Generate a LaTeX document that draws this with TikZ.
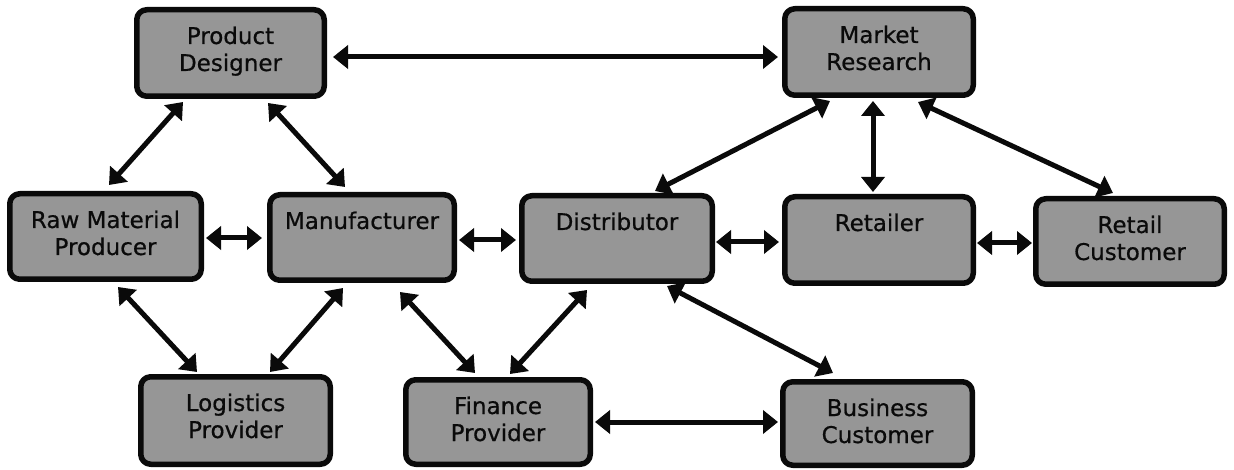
\documentclass[tikz,border=0pt]{standalone}
\usepackage{fontspec}
\setmainfont{DejaVu Sans}
\newfontfamily\lblfont{DejaVu Sans}[FakeBold=0.6]
\usetikzlibrary{arrows.meta}
\definecolor{boxgray}{RGB}{150,150,150}
\definecolor{inkblack}{RGB}{10,10,10}
\newcommand{\firstline}{\rule{0pt}{25pt}}
\begin{document}
\begin{tikzpicture}[x=1pt,y=-1pt,
  box/.style={draw=inkblack, line width=5.5pt, fill=boxgray, rounded corners=10pt,
    inner sep=0pt, line join=round},
  lbl/.style={anchor=north, inner sep=0pt, outer sep=0pt, align=center,
    text=inkblack, font=\lblfont\fontsize{23}{27}\selectfont},
  arr/.style={draw=inkblack, line width=5pt,
    {Triangle[length=15pt,width=23pt]}-{Triangle[length=15pt,width=23pt]}}]
\useasboundingbox (0,0) rectangle (1234,470);
% boxes (minimum size = outer size - line width)
\node[box, minimum width=187.5pt, minimum height=86.5pt] (pd)  at (230.5,53) {};
\node[box, minimum width=188.5pt, minimum height=86.5pt] (mr)  at (879,52) {};
\node[box, minimum width=191.5pt, minimum height=85.5pt] (rm)  at (105.5,236.5) {};
\node[box, minimum width=184.5pt, minimum height=85.5pt] (mfg) at (362,237.5) {};
\node[box, minimum width=190.5pt, minimum height=85.5pt] (dist) at (617,238.5) {};
\node[box, minimum width=188.5pt, minimum height=86.5pt] (ret) at (879,240) {};
\node[box, minimum width=188.5pt, minimum height=85.5pt] (rc)  at (1130,241.5) {};
\node[box, minimum width=189.5pt, minimum height=87.5pt] (log) at (235.5,420.5) {};
\node[box, minimum width=184.5pt, minimum height=84.5pt] (fin) at (498,422) {};
\node[box, minimum width=189.5pt, minimum height=83.5pt] (bc)  at (877.5,423.5) {};
% labels
\node[lbl] (pdt)  at ([shift={(0,12)}]pd.north)   {\firstline Product\\Designer};
\node[lbl] (mrt)  at ([shift={(0,12)}]mr.north)   {\firstline Market\\Research};
\node[lbl] (rmt)  at ([shift={(0,12)}]rm.north)   {\firstline Raw Material\\Producer};
\node[lbl] (mfgt) at ([shift={(0,12)}]mfg.north)  {\firstline Manufacturer};
\node[lbl] (distt) at ([shift={(0,12)}]dist.north) {\firstline Distributor};
\node[lbl] (rett) at ([shift={(0,12)}]ret.north)  {\firstline Retailer};
\node[lbl] (rct)  at ([shift={(0,12)}]rc.north)   {\firstline Retail\\Customer};
\node[lbl] (logt) at ([shift={(0,12)}]log.north)  {\firstline Logistics\\Provider};
\node[lbl] (fint) at ([shift={(0,12)}]fin.north)  {\firstline Finance\\Provider};
\node[lbl] (bct)  at ([shift={(0,12)}]bc.north)   {\firstline Business\\Customer};
% connectors
\draw[arr] ([shift={(6,4)}]pd.east) -- ([shift={(-4,5)}]mr.west);
\draw[arr] ([shift={(49,3)}]pd.south west) -- ([shift={(102,-6)}]rm.north west);
\draw[arr] ([shift={(134,4)}]pd.south west) -- ([shift={(78,-5)}]mfg.north west);
\draw[arr] ([shift={(2,1.5)}]rm.east) -- ([shift={(-5,0.5)}]mfg.west);
\draw[arr] ([shift={(111,5)}]rm.south west) -- ([shift={(59,-2)}]log.north west);
\draw[arr] ([shift={(76,5)}]mfg.south west) -- ([shift={(132,-2)}]log.north west);
\draw[arr] ([shift={(133,9)}]mfg.south west) -- ([shift={(72,-4)}]fin.north west);
\draw[arr] ([shift={(2,2.5)}]mfg.east) -- ([shift={(-3,1.5)}]dist.west);
\draw[arr] ([shift={(68,6)}]dist.south west) -- ([shift={(107,-3)}]fin.north west);
\draw[arr] ([shift={(148,2)}]dist.south west) -- ([shift={(53,-6)}]bc.north west);
\draw[arr] ([shift={(2,0)}]fin.east) -- ([shift={(-2,-1.5)}]bc.west);
\draw[arr] ([shift={(1,3.5)}]dist.east) -- ([shift={(-3,2)}]ret.west);
\draw[arr] ([shift={(48,3)}]mr.south west) -- ([shift={(136,-2)}]dist.north west);
\draw[arr] ([shift={(-6,3)}]mr.south) -- ([shift={(-6,-2)}]ret.north);
\draw[arr] ([shift={(136,4)}]mr.south west) -- ([shift={(80,-3)}]rc.north west);
\draw[arr] ([shift={(1,3)}]ret.east) -- ([shift={(-1,1.5)}]rc.west);
\end{tikzpicture}
\end{document}
